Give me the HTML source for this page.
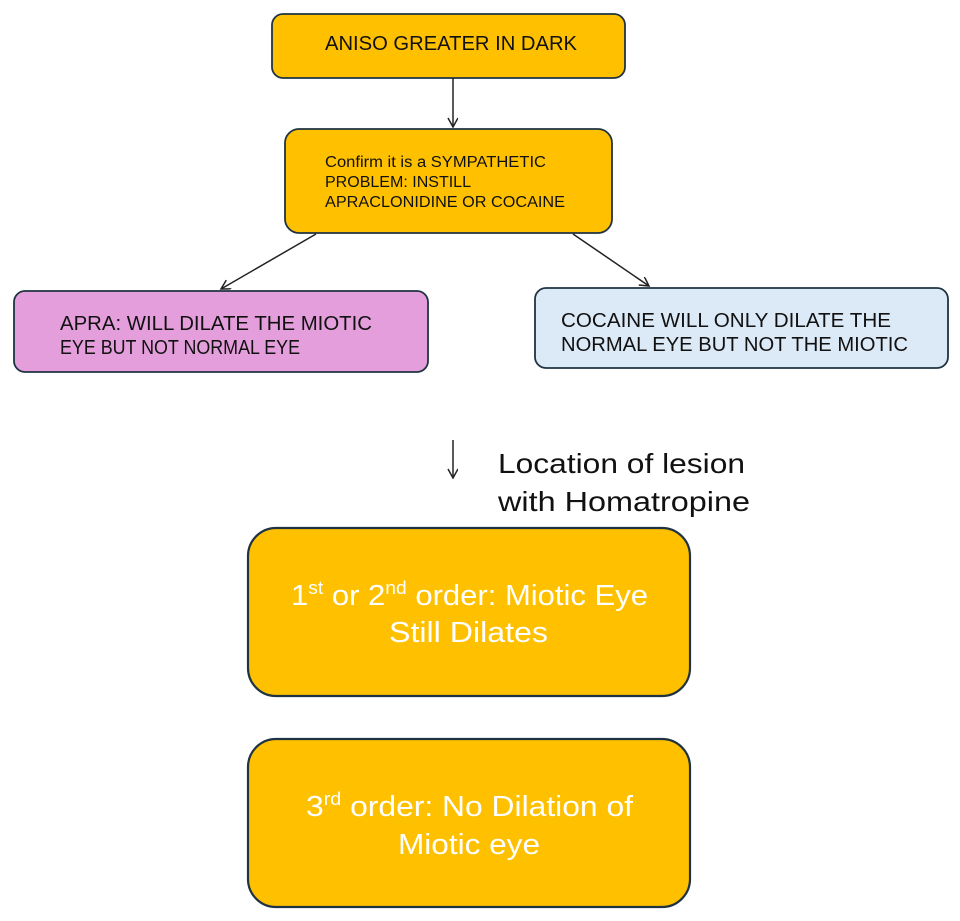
<!DOCTYPE html>
<html><head><meta charset="utf-8"><style>
html,body{margin:0;padding:0;background:#fff;}
svg{display:block}
text{font-family:"Liberation Sans",sans-serif;}
</style></head><body>
<svg width="960" height="921" viewBox="0 0 960 921" xmlns="http://www.w3.org/2000/svg">
<defs>
<marker id="ah" markerWidth="12" markerHeight="12" refX="10" refY="5" orient="auto" markerUnits="userSpaceOnUse">
<path d="M1,0 L10,5 L1,10" fill="none" stroke="#222" stroke-width="1.5"/>
</marker>
</defs>
<g stroke="#1f3342" stroke-width="1.8">
<rect x="272" y="14" width="353" height="64" rx="11" fill="#FFC000"/>
<rect x="285" y="129" width="327" height="104" rx="14" fill="#FFC000"/>
<rect x="14" y="291" width="414" height="81" rx="11" fill="#E49EDB"/>
<rect x="535" y="288" width="413" height="80" rx="11" fill="#DCE9F6"/>
<rect x="248" y="528" width="442" height="168" rx="28" fill="#FFC000" stroke-width="2.2"/>
<rect x="248" y="739" width="442" height="168" rx="28" fill="#FFC000" stroke-width="2.2"/>
</g>
<g stroke="#222" stroke-width="1.5" fill="none">
<line x1="453" y1="78" x2="453" y2="127" marker-end="url(#ah)"/>
<line x1="316" y1="234" x2="221" y2="289" marker-end="url(#ah)"/>
<line x1="573" y1="234" x2="649" y2="286" marker-end="url(#ah)"/>
<line x1="453" y1="440" x2="453" y2="478" marker-end="url(#ah)"/>
</g>
<g fill="#111">
<text x="325" y="50" font-size="20" textLength="252" lengthAdjust="spacingAndGlyphs">ANISO GREATER IN DARK</text>
<text x="325" y="167" font-size="15.5" textLength="221" lengthAdjust="spacingAndGlyphs">Confirm it is a SYMPATHETIC</text>
<text x="325" y="187" font-size="15.5" textLength="146" lengthAdjust="spacingAndGlyphs">PROBLEM: INSTILL</text>
<text x="325" y="207" font-size="15.5" textLength="240" lengthAdjust="spacingAndGlyphs">APRACLONIDINE OR COCAINE</text>
<text x="60" y="330" font-size="20" textLength="312" lengthAdjust="spacingAndGlyphs">APRA: WILL DILATE THE MIOTIC</text>
<text x="60" y="354" font-size="20" textLength="240" lengthAdjust="spacingAndGlyphs">EYE BUT NOT NORMAL EYE</text>
<text x="561" y="327" font-size="20" textLength="330" lengthAdjust="spacingAndGlyphs">COCAINE WILL ONLY DILATE THE</text>
<text x="561" y="351" font-size="20" textLength="347" lengthAdjust="spacingAndGlyphs">NORMAL EYE BUT NOT THE MIOTIC</text>
<text x="498" y="473" font-size="28" textLength="247" lengthAdjust="spacingAndGlyphs">Location of lesion</text>
<text x="498" y="511" font-size="28" textLength="252" lengthAdjust="spacingAndGlyphs">with Homatropine</text>
</g>
<g fill="#fff" font-size="29">
<text x="291" y="605" textLength="357" lengthAdjust="spacingAndGlyphs">1<tspan font-size="18" dy="-11">st</tspan><tspan dy="11"> or 2</tspan><tspan font-size="18" dy="-11">nd</tspan><tspan dy="11"> order: Miotic Eye</tspan></text>
<text x="389" y="642" textLength="159" lengthAdjust="spacingAndGlyphs">Still Dilates</text>
<text x="306" y="816" textLength="327" lengthAdjust="spacingAndGlyphs">3<tspan font-size="18" dy="-11">rd</tspan><tspan dy="11"> order: No Dilation of</tspan></text>
<text x="398" y="854" textLength="142" lengthAdjust="spacingAndGlyphs">Miotic eye</text>
</g>
</svg>
</body></html>
